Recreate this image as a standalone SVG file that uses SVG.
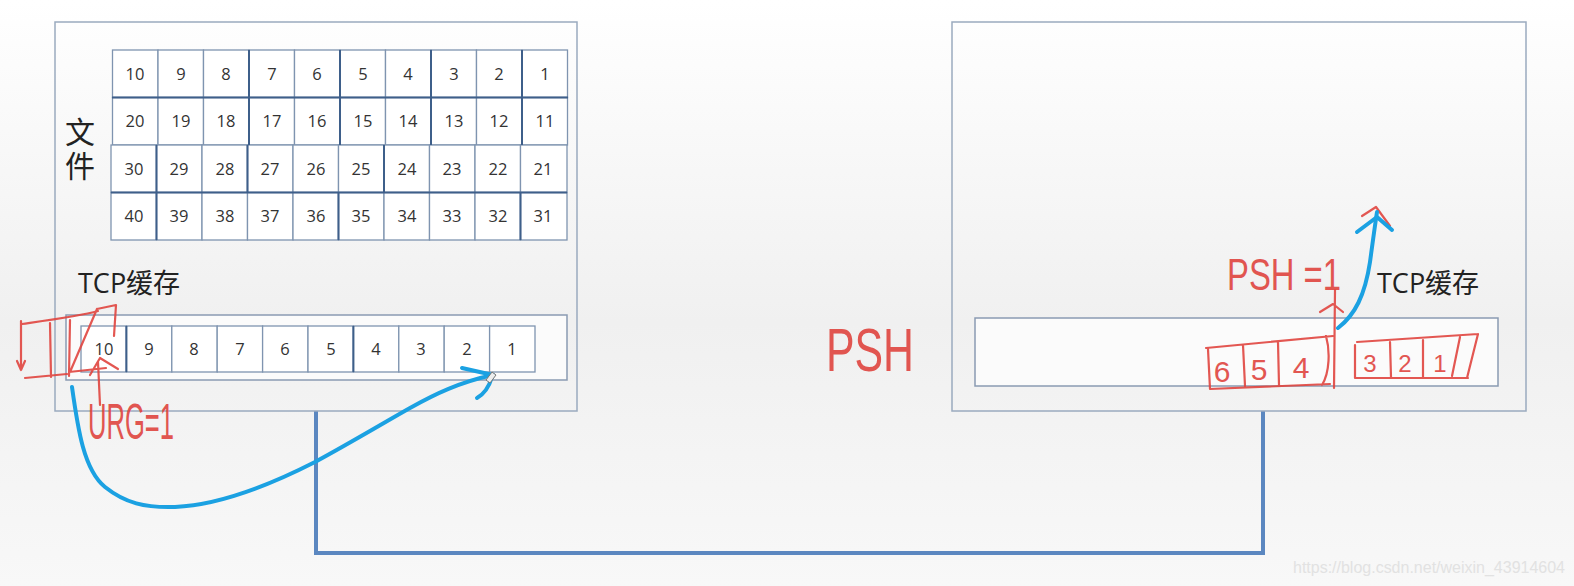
<svg xmlns="http://www.w3.org/2000/svg" width="1574" height="586" viewBox="0 0 1574 586">
<defs>
<linearGradient id="bg" x1="0" y1="0" x2="0" y2="1">
<stop offset="0" stop-color="#ffffff"/>
<stop offset="0.55" stop-color="#f0f0f0"/>
<stop offset="1" stop-color="#f8f8f8"/>
</linearGradient>
<style>
.box{fill:none;stroke:#9aaabf;stroke-width:1.5}
.buf{fill:#fbfbfb;stroke:#8a9bb2;stroke-width:1.5}
.cell{fill:#ffffff;stroke:#7f94b0;stroke-width:1.3}
.dk{stroke:#3e5f8a;stroke-width:2}
.num{font-family:"Open Sans","Liberation Sans",sans-serif;font-size:16.5px;fill:#333;text-anchor:middle}
.cjk{font-family:"Open Sans","Noto Sans CJK SC",sans-serif;fill:#222}
.red{fill:none;stroke:#e0453f;stroke-width:2.2;stroke-linecap:round;stroke-linejoin:round;opacity:0.9}
.rt{font-family:"Liberation Sans","DejaVu Sans",sans-serif;fill:#e0453f;opacity:0.9}
.blue{fill:none;stroke:#1ba1e2;stroke-width:4;stroke-linecap:round;stroke-linejoin:round}
</style>
</defs>
<rect width="1574" height="586" fill="url(#bg)"/>

<g id="connectors">
<path d="M316,411 V553 H1263 V411" fill="none" stroke="#5b87c0" stroke-width="4"/>
</g>

<g id="sender">
<rect class="box" x="55" y="22" width="522" height="389"/>
<text class="cjk" x="80" y="117" font-size="30" writing-mode="vertical-rl" letter-spacing="4" style="font-family:'Noto Sans CJK SC',sans-serif">文件</text>
<g id="file-grid">
<g class="cells">
<rect class="cell" x="112.5" y="50" width="45.5" height="47.5"/><rect class="cell" x="158" y="50" width="45.5" height="47.5"/><rect class="cell" x="203.5" y="50" width="45.5" height="47.5"/><rect class="cell" x="249" y="50" width="45.5" height="47.5"/><rect class="cell" x="294.5" y="50" width="45.5" height="47.5"/><rect class="cell" x="340" y="50" width="45.5" height="47.5"/><rect class="cell" x="385.5" y="50" width="45.5" height="47.5"/><rect class="cell" x="431" y="50" width="45.5" height="47.5"/><rect class="cell" x="476.5" y="50" width="45.5" height="47.5"/><rect class="cell" x="522" y="50" width="45.5" height="47.5"/>
<rect class="cell" x="112.5" y="97.5" width="45.5" height="47.5"/><rect class="cell" x="158" y="97.5" width="45.5" height="47.5"/><rect class="cell" x="203.5" y="97.5" width="45.5" height="47.5"/><rect class="cell" x="249" y="97.5" width="45.5" height="47.5"/><rect class="cell" x="294.5" y="97.5" width="45.5" height="47.5"/><rect class="cell" x="340" y="97.5" width="45.5" height="47.5"/><rect class="cell" x="385.5" y="97.5" width="45.5" height="47.5"/><rect class="cell" x="431" y="97.5" width="45.5" height="47.5"/><rect class="cell" x="476.5" y="97.5" width="45.5" height="47.5"/><rect class="cell" x="522" y="97.5" width="45.5" height="47.5"/>
<rect class="cell" x="111" y="145" width="45.5" height="47.5"/><rect class="cell" x="156.5" y="145" width="45.5" height="47.5"/><rect class="cell" x="202" y="145" width="45.5" height="47.5"/><rect class="cell" x="247.5" y="145" width="45.5" height="47.5"/><rect class="cell" x="293" y="145" width="45.5" height="47.5"/><rect class="cell" x="338.5" y="145" width="45.5" height="47.5"/><rect class="cell" x="384" y="145" width="45.5" height="47.5"/><rect class="cell" x="429.5" y="145" width="45.5" height="47.5"/><rect class="cell" x="475" y="145" width="45.5" height="47.5"/><rect class="cell" x="520.5" y="145" width="46.5" height="47.5"/>
<rect class="cell" x="111" y="192.5" width="45.5" height="47.5"/><rect class="cell" x="156.5" y="192.5" width="45.5" height="47.5"/><rect class="cell" x="202" y="192.5" width="45.5" height="47.5"/><rect class="cell" x="247.5" y="192.5" width="45.5" height="47.5"/><rect class="cell" x="293" y="192.5" width="45.5" height="47.5"/><rect class="cell" x="338.5" y="192.5" width="45.5" height="47.5"/><rect class="cell" x="384" y="192.5" width="45.5" height="47.5"/><rect class="cell" x="429.5" y="192.5" width="45.5" height="47.5"/><rect class="cell" x="475" y="192.5" width="45.5" height="47.5"/><rect class="cell" x="520.5" y="192.5" width="46.5" height="47.5"/>
</g>
<path class="dk" d="M112,97.5 H568 M111,192.5 H567 M249,50 V145 M340,50 V145 M431,50 V145 M522,50 V145 M156.5,145 V240 M247.5,145 V192.5 M384,145 V192.5 M338.5,192.5 V240 M520.5,192.5 V240"/>
<g class="num">
<text x="135" y="80">10</text><text x="181" y="80">9</text><text x="226" y="80">8</text><text x="272" y="80">7</text><text x="317" y="80">6</text><text x="363" y="80">5</text><text x="408" y="80">4</text><text x="454" y="80">3</text><text x="499" y="80">2</text><text x="545" y="80">1</text>
<text x="135" y="127">20</text><text x="181" y="127">19</text><text x="226" y="127">18</text><text x="272" y="127">17</text><text x="317" y="127">16</text><text x="363" y="127">15</text><text x="408" y="127">14</text><text x="454" y="127">13</text><text x="499" y="127">12</text><text x="545" y="127">11</text>
<text x="134" y="175">30</text><text x="179" y="175">29</text><text x="225" y="175">28</text><text x="270" y="175">27</text><text x="316" y="175">26</text><text x="361" y="175">25</text><text x="407" y="175">24</text><text x="452" y="175">23</text><text x="498" y="175">22</text><text x="543" y="175">21</text>
<text x="134" y="222">40</text><text x="179" y="222">39</text><text x="225" y="222">38</text><text x="270" y="222">37</text><text x="316" y="222">36</text><text x="361" y="222">35</text><text x="407" y="222">34</text><text x="452" y="222">33</text><text x="498" y="222">32</text><text x="543" y="222">31</text>
</g>
</g>
<text class="cjk" x="78" y="293" font-size="27">TCP缓存</text>
<g id="send-buffer">
<rect class="buf" x="66" y="315" width="501" height="65"/>
<g class="cells">
<rect class="cell" x="81" y="326" width="45.4" height="46"/><rect class="cell" x="126.4" y="326" width="45.4" height="46"/><rect class="cell" x="171.8" y="326" width="45.4" height="46"/><rect class="cell" x="217.2" y="326" width="45.4" height="46"/><rect class="cell" x="262.6" y="326" width="45.4" height="46"/><rect class="cell" x="308" y="326" width="45.4" height="46"/><rect class="cell" x="353.4" y="326" width="45.4" height="46"/><rect class="cell" x="398.8" y="326" width="45.4" height="46"/><rect class="cell" x="444.2" y="326" width="45.4" height="46"/><rect class="cell" x="489.6" y="326" width="45.4" height="46"/>
</g>
<path class="dk" d="M126.4,326 V372 M353.4,326 V372" stroke-width="1.6"/>
<g class="num">
<text x="104" y="355">10</text><text x="149" y="355">9</text><text x="194" y="355">8</text><text x="240" y="355">7</text><text x="285" y="355">6</text><text x="331" y="355">5</text><text x="376" y="355">4</text><text x="421" y="355">3</text><text x="467" y="355">2</text><text x="512" y="355">1</text>
</g>
</g>
</g>

<g id="receiver">
<rect class="box" x="952" y="22" width="574" height="389"/>
<text class="cjk" x="1377" y="293" font-size="27">TCP缓存</text>
<rect id="recv-buffer" class="buf" x="975" y="318" width="523" height="68"/>
</g>

<g id="annotations-left">
<path class="red" d="M21,321 L21,370 M17,361 L21,370 L25,361 M22,324 C50,320 80,316 98,311 M50,323 L51,377 M25,378 L67,374 M70,320 L69,376 M97,309 L70,372 M69,372 L106,368 M97,309 L116,305 L114,336 M90,375 L100,358 L118,369 M98,362 L100,405"/>
<text class="rt" x="88" y="439" font-size="50" textLength="86" lengthAdjust="spacingAndGlyphs">URG=1</text>
<path class="blue" d="M72,387 C78,430 84,470 105,487 C125,503 145,508 175,507 C220,505 270,485 315,462 C350,443 380,425 410,408 C435,394 460,382 493,375"/>
<path class="blue" d="M462,368 L493,375 M477,398 C484,394 489,387 492,377"/>
<path d="M486,380 l6,-8 l4,3 l-6,8 z" fill="#eeeeee" stroke="#777" stroke-width="1"/>
</g>

<g id="annotations-middle">
<text class="rt" x="826" y="371" font-size="62" textLength="88" lengthAdjust="spacingAndGlyphs">PSH</text>
</g>

<g id="annotations-right">
<text class="rt" x="1227" y="290" font-size="44" textLength="114" lengthAdjust="spacingAndGlyphs">PSH =1</text>
<path class="red" d="M1335,290 L1334,388 M1320,312 L1333,304 L1343,312"/>
<path class="red" d="M1206,348 L1333,336 M1208,349 L1210,389 M1210,389 L1330,384 M1243,345 L1245,386 M1278,342 L1279,385 M1326,336 C1330,350 1330,372 1322,385"/>
<text class="rt" x="1222" y="382" font-size="30" text-anchor="middle">6</text>
<text class="rt" x="1259" y="380" font-size="30" text-anchor="middle">5</text>
<text class="rt" x="1301" y="378" font-size="30" text-anchor="middle">4</text>
<path class="red" d="M1357,342 L1478,334 M1478,334 L1467,378 M1355,345 L1355,378 M1355,378 L1468,378 M1390,342 L1391,377 M1423,340 L1423,378 M1460,337 L1452,376"/>
<text class="rt" x="1370" y="372" font-size="24" text-anchor="middle">3</text>
<text class="rt" x="1405" y="372" font-size="24" text-anchor="middle">2</text>
<text class="rt" x="1440" y="372" font-size="24" text-anchor="middle">1</text>
<path class="red" d="M1362,216 L1376,207 L1390,226" opacity="0.5"/>
<path class="blue" d="M1338,328 C1355,315 1365,295 1370,262 C1373,240 1375,225 1377,212"/>
<path class="blue" d="M1357,232 L1377,217 L1392,230"/>
</g>

<text x="1293" y="573" font-family="Liberation Sans, Arial, sans-serif" font-size="16" fill="#e2e2e2" textLength="272">https://blog.csdn.net/weixin_43914604</text>
</svg>
